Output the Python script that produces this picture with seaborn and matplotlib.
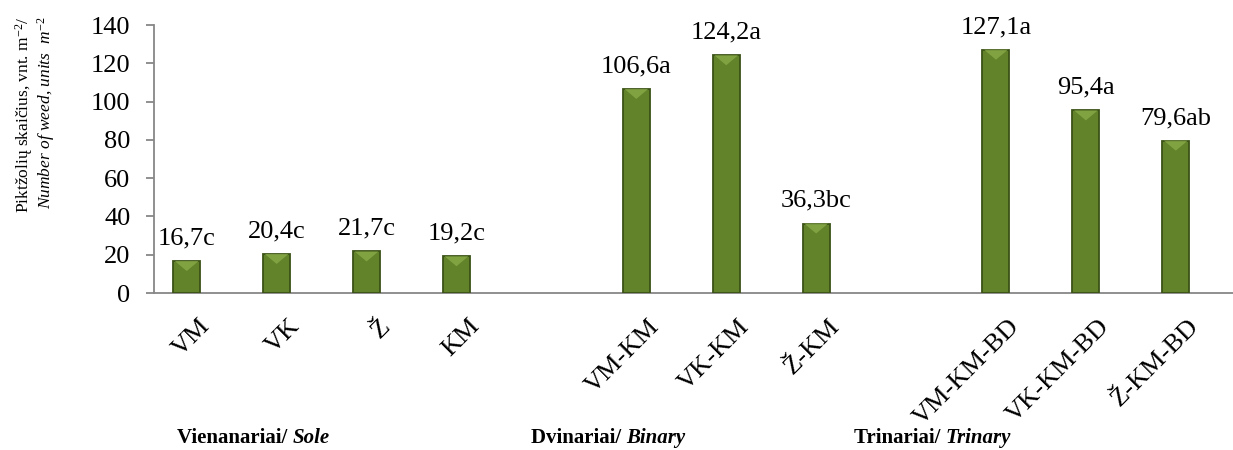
import numpy as np
import pandas as pd
import matplotlib
matplotlib.use("Agg")
import matplotlib.pyplot as plt
from matplotlib.patches import Polygon
import seaborn as sns

# Weed counts per herbicide treatment (units m-2) with significance letters
treatments = ["VM", "VK", "Ž", "KM",
              "VM-KM", "VK-KM", "Ž-KM",
              "VM-KM-BD", "VK-KM-BD", "Ž-KM-BD"]
weed_counts = [16.7, 20.4, 21.7, 19.2, 106.6, 124.2, 36.3, 127.1, 95.4, 79.6]
sig_letters = ["c", "c", "c", "c", "a", "a", "bc", "a", "a", "ab"]
group_index = [0, 0, 0, 0, 1, 1, 1, 2, 2, 2]
group_names = ["Vienanariai/ ", "Dvinariai/ ", "Trinariai/ "]
group_names_en = ["Sole", "Binary", "Trinary"]
y_ticks = [0, 20, 40, 60, 80, 100, 120, 140]

sns.set_theme(style="white")
plt.rcParams["font.family"] = ["Liberation Serif", "DejaVu Serif"]
plt.rcParams["text.color"] = "black"
plt.rcParams["mathtext.fontset"] = "custom"
plt.rcParams["mathtext.rm"] = "Liberation Serif"
plt.rcParams["mathtext.it"] = "Liberation Serif:italic"
plt.rcParams["mathtext.bf"] = "Liberation Serif:bold"

# one empty slot separates the treatment groups
slots = [i + g for i, g in enumerate(group_index)]
n_slots = slots[-1] + 1
bar_shift = -0.136
df = pd.DataFrame({
    "pos": [s + bar_shift for s in slots],
    "weeds": weed_counts,
})

W, H = 1233, 450
fig = plt.figure(figsize=(W / 100, H / 100), dpi=100)
ax = fig.add_axes([154 / W, (H - 293) / H, (W - 154) / W, (293 - 25) / H])

bar_face = "#62832a"
bar_edge = "#3b5217"
sns.barplot(data=df, x="pos", y="weeds", native_scale=True, width=0.30,
            color=bar_face, saturation=1, edgecolor=bar_edge, linewidth=1.3,
            ax=ax, zorder=3)

ax.set_ylim(0, 140)
ax.set_xlim(-0.5, -0.5 + (W - 154) / 90.7)
ax.set_yticks(y_ticks)
ax.set_yticklabels([str(v) for v in y_ticks], fontsize=19)

# category labels at slot centres, tick marks at slot boundaries
labels = [""] * n_slots
for s, t in zip(slots, treatments):
    labels[s] = t
ax.set_xticks(range(n_slots))
ax.set_xticklabels(labels, fontsize=19, rotation=45, ha="right",
                   va="top", rotation_mode="anchor")
ax.set_xticks(np.arange(-0.5, n_slots, 1.0), minor=True)
ax.tick_params(axis="x", which="major", length=0, pad=16, labelcolor="black")
ax.tick_params(axis="x", which="minor", length=6, width=1.3,
               color="#878787", direction="out")
ax.tick_params(axis="y", length=6, width=1.3, color="#878787",
               direction="out", pad=11, left=True, labelcolor="black")
ax.set_xlabel("")
ax.set_ylabel("")
for side in ["top", "right"]:
    ax.spines[side].set_visible(False)
for side in ["left", "bottom"]:
    ax.spines[side].set_color("#878787")
    ax.spines[side].set_linewidth(1.3)

# bevelled top on every bar
px_per_unit = (293 - 25) / 140
bevel = 10 / px_per_unit
for p in ax.patches:
    x0, w, top = p.get_x(), p.get_width(), p.get_height()
    tri = Polygon([(x0 + 0.06 * w, top), (x0 + 0.94 * w, top),
                   (x0 + 0.5 * w, top - bevel)], closed=True,
                  facecolor="#8cad4a", edgecolor="none", alpha=0.75,
                  zorder=4)
    ax.add_patch(tri)

# value labels
for x, v, l in zip(df["pos"], weed_counts, sig_letters):
    ax.annotate(f"{v:.1f}".replace(".", ",") + l, (x, v),
                xytext=(0, 12), textcoords="offset points",
                ha="center", va="baseline", fontsize=19, color="black")

# y-axis title, two lines
fig.text(24 / W, 1 - 115 / H, "Piktžolių skaičius, vnt. m$^{-2}$/",
         rotation=90, ha="center", va="center", fontsize=12.5)
fig.text(46 / W, 1 - 113 / H, "Number of weed, units  $m^{-2}$",
         rotation=90, ha="center", va="center", fontsize=12.5,
         style="italic")

# group captions under the axis
group_centres = [253, 608, 932]
fig.canvas.draw()
renderer = fig.canvas.get_renderer()
for cx, a, b in zip(group_centres, group_names, group_names_en):
    t1 = fig.text(0, 2 / H, a, fontsize=15, fontweight="bold",
                  ha="left", va="bottom")
    t2 = fig.text(0, 2 / H, b, fontsize=15, fontweight="bold",
                  style="italic", ha="left", va="bottom")
    w1 = t1.get_window_extent(renderer).width
    w2 = t2.get_window_extent(renderer).width
    start = cx - (w1 + w2) / 2
    t1.set_x(start / W)
    t2.set_x((start + w1) / W)

fig.savefig("out.png", dpi=100)
